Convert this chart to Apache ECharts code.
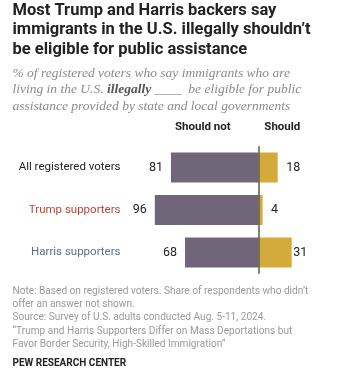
<!DOCTYPE html>
<html><head><meta charset="utf-8">
<script src="https://cdn.jsdelivr.net/npm/echarts@6/dist/echarts.min.js"></script>
<style>html,body{margin:0;padding:0;background:#fff}#c{width:359px;height:376px}</style>
</head><body><div id="c"></div>
<script>
const categories = ['All registered voters', 'Trump supporters', 'Harris supporters'];
const shouldNot = [81, 96, 68];
const should = [18, 4, 31];
const columnHeaders = ['Should not', 'Should'];

const catColors = ['#222222', '#b8433a', '#5b6f87'];
const sans = 'Roboto, "Liberation Sans", sans-serif';

const chart = echarts.init(document.getElementById('c'), null, {renderer: 'canvas'});
chart.setOption({
  backgroundColor: '#ffffff',
  animation: false,
  graphic: [
    {type: 'text', left: 12.5, top: 0.75, style: {
      text: 'Most Trump and Harris backers say\nimmigrants in the U.S. illegally shouldn\u2019t\nbe eligible for public assistance',
      font: 'bold 16.5px ' + sans, fill: '#222222', lineHeight: 19.5}},
    {type: 'text', left: 12.5, top: 64.75, style: {
      text: '{n|% of registered voters who say immigrants who are}\n{n|living in the U.S. }{b|illegally}{n| ____  be eligible for public}\n{n|assistance provided by state and local governments}',
      lineHeight: 16.5,
      rich: {
        n: {font: 'italic 13.5px "Liberation Serif", serif', fill: '#8a8a8a', lineHeight: 16.5},
        b: {font: 'italic bold 13.5px "Liberation Serif", serif', fill: '#555555', lineHeight: 16.5}
      }}},
    {type: 'text', left: 175, top: 121.5, style: {text: columnHeaders[0], font: 'bold 11.5px ' + sans, fill: '#222222'}},
    {type: 'text', left: 264.3, top: 121.5, style: {text: columnHeaders[1], font: 'bold 11.5px ' + sans, fill: '#222222'}},
    {type: 'text', left: 12.5, top: 285.2, style: {
      text: 'Note: Based on registered voters. Share of respondents who didn\u2019t\noffer an answer not shown.\nSource: Survey of U.S. adults conducted Aug. 5-11, 2024.\n\u201cTrump and Harris Supporters Differ on Mass Deportations but\nFavor Border Security, High-Skilled Immigration\u201d',
      font: '10.1px ' + sans, fill: '#9a9a9a', lineHeight: 13.1}},
    {type: 'text', left: 12.5, top: 358, style: {text: 'PEW RESEARCH CENTER', font: 'bold 10px ' + sans, fill: '#222222'}}
  ],
  grid: {left: 150.5, right: 57.6, top: 146.25, height: 127.5, containLabel: false},
  xAxis: {type: 'value', min: -100, max: 40, show: false},
  yAxis: {
    type: 'category', data: categories, inverse: true,
    axisLine: {show: false}, axisTick: {show: false}, splitLine: {show: false},
    axisLabel: {
      margin: 30, fontFamily: sans, fontSize: 11.5,
      formatter: function (v, i) { return '{c' + i + '|' + v + '}'; },
      rich: {
        c0: {color: catColors[0], fontFamily: sans, fontSize: 11.5},
        c1: {color: catColors[1], fontFamily: sans, fontSize: 11.5},
        c2: {color: catColors[2], fontFamily: sans, fontSize: 11.5}
      }
    }
  },
  series: [
    {
      name: columnHeaders[0], type: 'bar', barWidth: 30, barGap: '-100%',
      data: shouldNot.map(v => -v),
      itemStyle: {color: '#716579'},
      label: {show: true, position: 'left', distance: 8, color: '#222222', fontFamily: sans, fontSize: 12.5,
        formatter: p => Math.abs(p.value)},
      markLine: {
        silent: true, symbol: 'none', label: {show: false},
        lineStyle: {color: '#5c5a3c', width: 1.5, type: 'solid'},
        data: [{xAxis: 0}]
      }
    },
    {
      name: columnHeaders[1], type: 'bar', barWidth: 30, barGap: '-100%',
      data: should.map((v, i) => ({value: v, label: {distance: i === 2 ? 1.5 : 8.5}})),
      itemStyle: {color: '#d4aa3c'},
      label: {show: true, position: 'right', color: '#222222', fontFamily: sans, fontSize: 12.5}
    }
  ]
});
</script></body></html>
